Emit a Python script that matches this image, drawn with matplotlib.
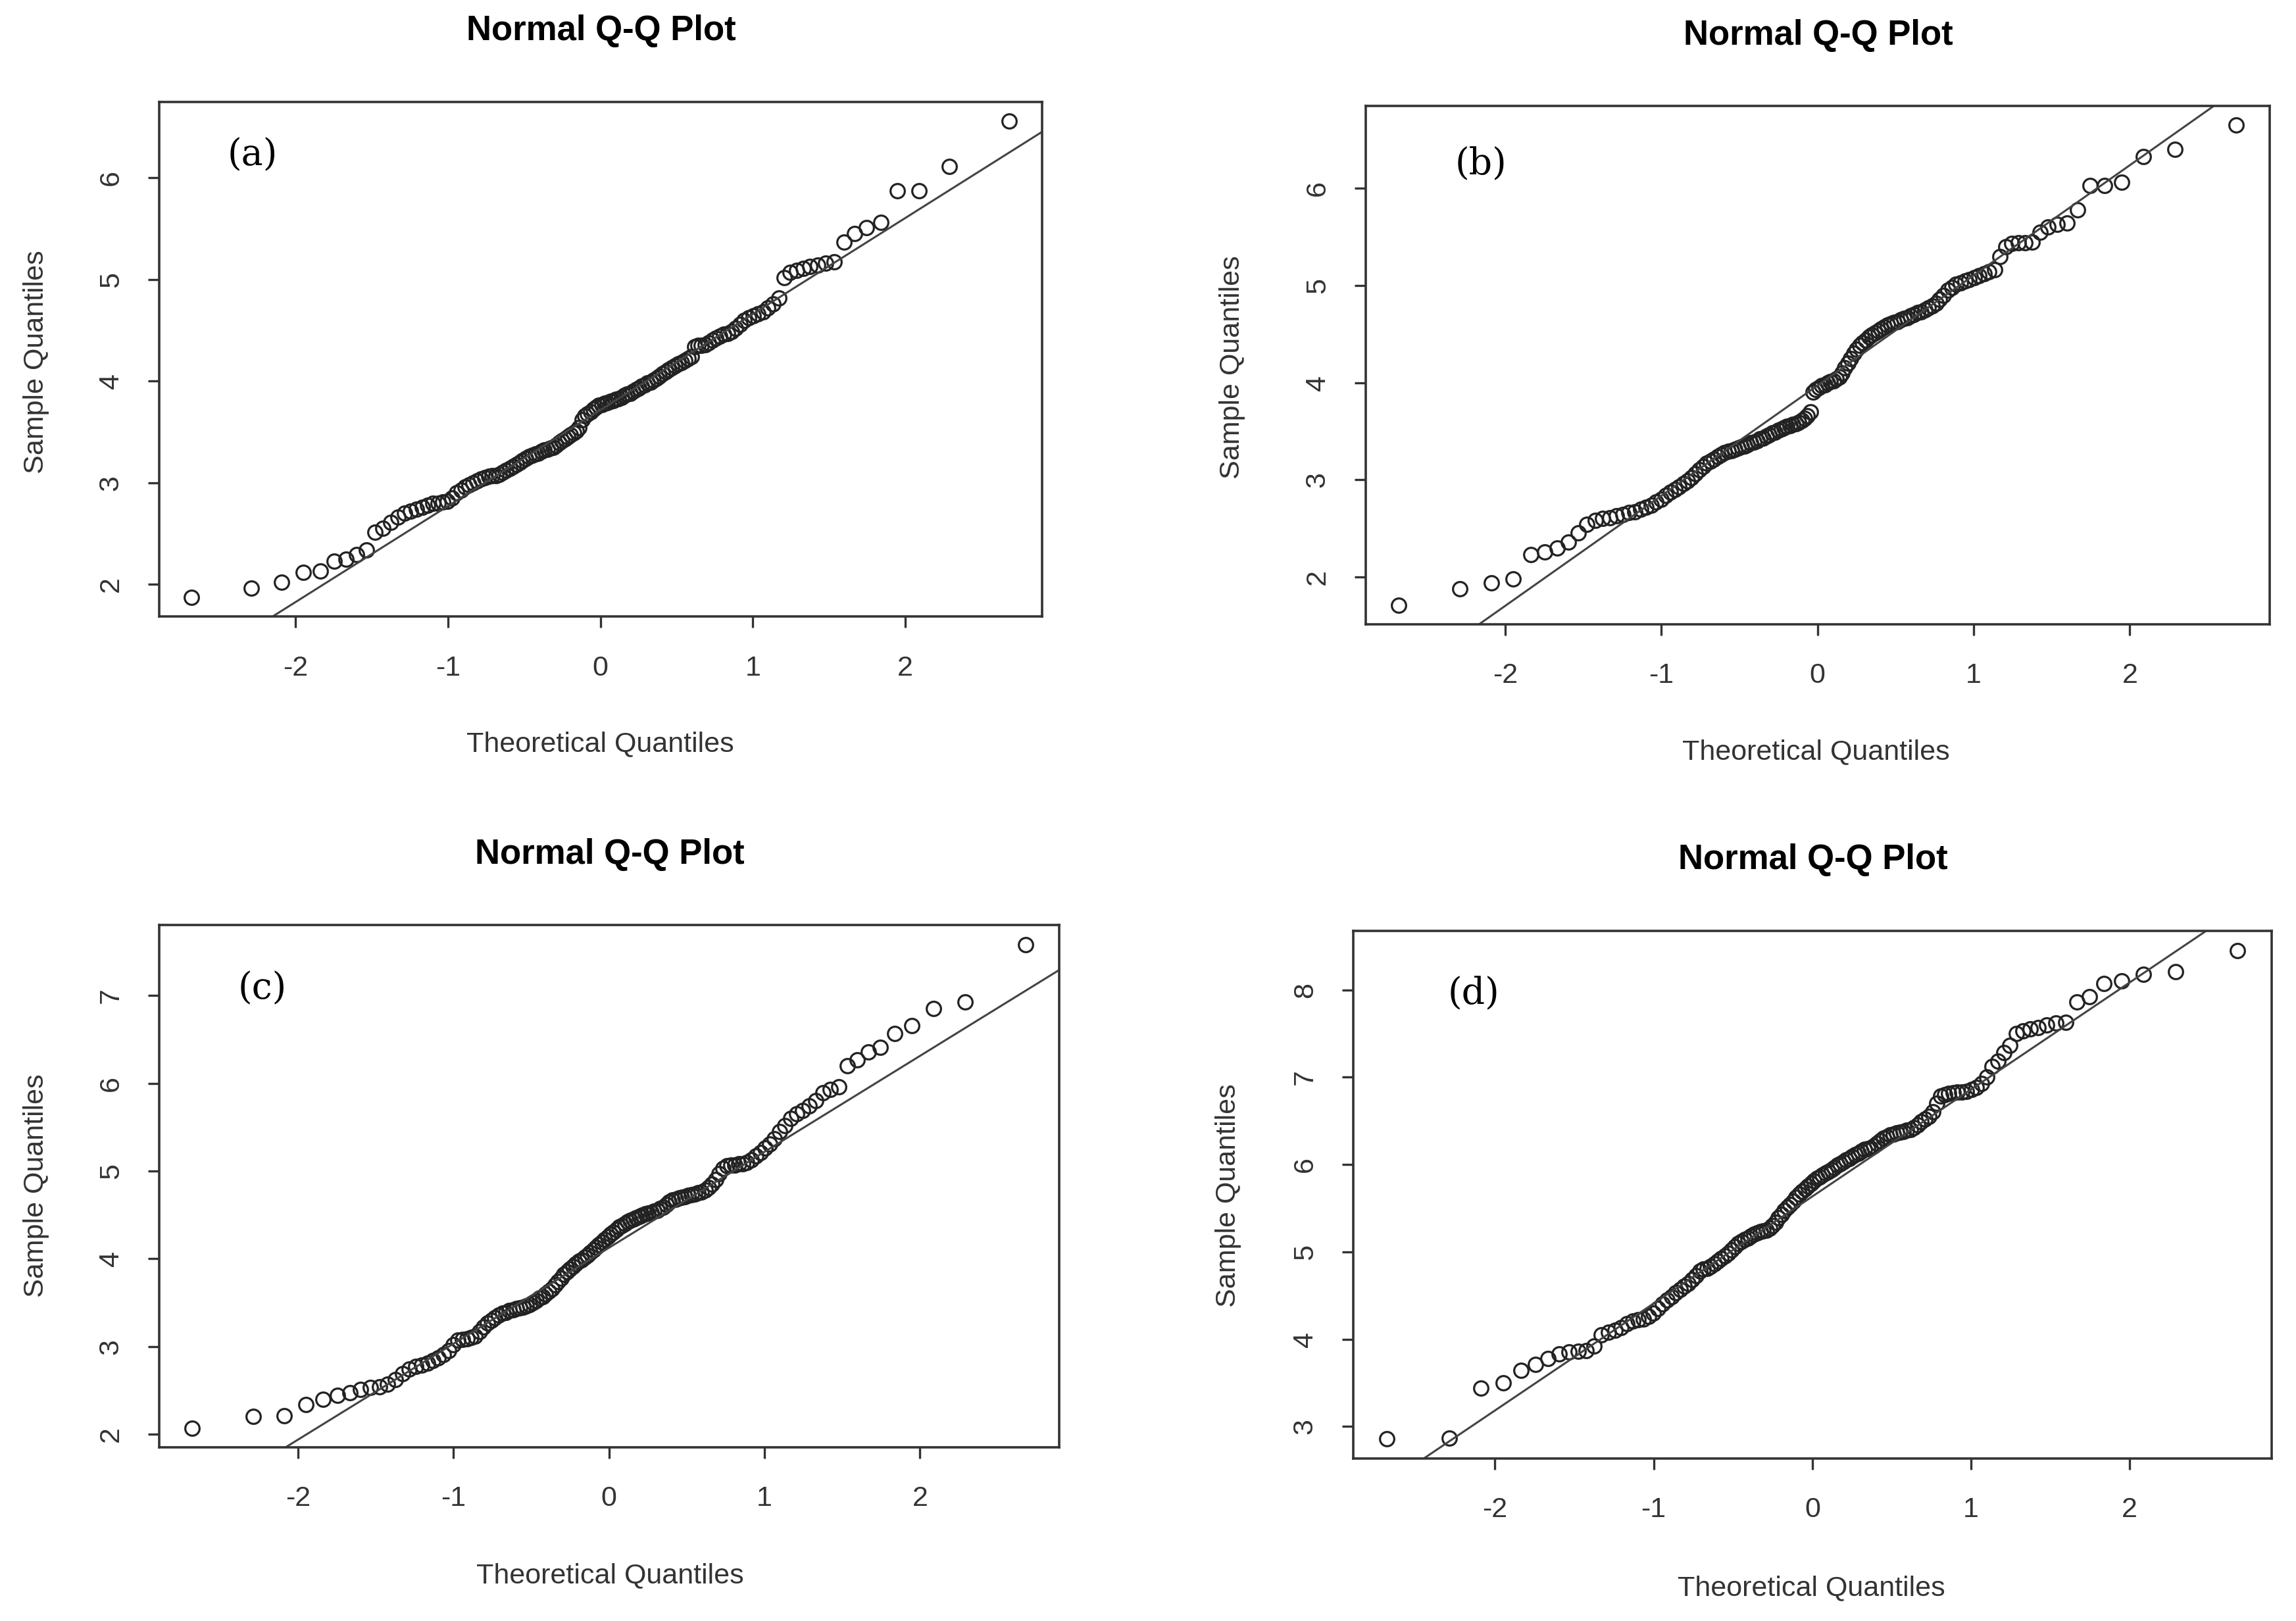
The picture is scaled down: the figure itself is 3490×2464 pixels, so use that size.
import matplotlib
matplotlib.use("Agg")
import matplotlib.pyplot as plt
from matplotlib.ticker import MultipleLocator
from statistics import NormalDist
import numpy as np

plt.rcParams['font.family'] = ['Liberation Sans', 'DejaVu Sans']
plt.rcParams['axes.unicode_minus'] = False

# sorted sample values
sample_a = [1.87, 1.96, 2.02, 2.12, 2.13, 2.23, 2.25, 2.29, 2.34, 2.51, 2.55, 2.61,
            2.66, 2.70, 2.72, 2.74, 2.76, 2.78, 2.80, 2.80, 2.81,
            2.82, 2.85, 2.90, 2.93, 2.96, 2.98, 3.00, 3.02, 3.04,
            3.05, 3.06, 3.07, 3.07, 3.08, 3.10, 3.12, 3.14, 3.16, 3.18,
            3.20, 3.22, 3.24, 3.26, 3.27, 3.28, 3.29, 3.31, 3.32, 3.33,
            3.34, 3.35, 3.37, 3.39, 3.41, 3.43, 3.45, 3.47, 3.49, 3.51,
            3.54, 3.62, 3.66, 3.68, 3.70, 3.72, 3.74, 3.76,
            3.77, 3.78, 3.79, 3.80, 3.81, 3.82, 3.83, 3.84,
            3.86, 3.87, 3.88, 3.90, 3.92, 3.93, 3.95, 3.96, 3.98, 3.99,
            4.01, 4.03, 4.05, 4.07, 4.09, 4.11, 4.13, 4.15, 4.17, 4.18,
            4.20, 4.22, 4.24, 4.34, 4.35, 4.35, 4.36, 4.38, 4.40, 4.42,
            4.44, 4.46, 4.47, 4.49, 4.52, 4.56, 4.60, 4.62, 4.64, 4.66, 4.68, 4.72, 4.76, 4.82,
            5.02, 5.07, 5.09, 5.11, 5.13, 5.14, 5.16, 5.17, 5.37, 5.45, 5.51, 5.56, 5.87, 5.87, 6.11, 6.56]

sample_b = [1.71, 1.88, 1.94, 1.98, 2.23, 2.26, 2.30, 2.36, 2.45, 2.54, 2.58, 2.60,
            2.61, 2.63, 2.64, 2.66, 2.67, 2.70, 2.72, 2.74, 2.77,
            2.80, 2.84, 2.87, 2.90, 2.93, 2.96, 2.99, 3.02, 3.06,
            3.10, 3.14, 3.17, 3.19, 3.21, 3.24, 3.26, 3.28, 3.29, 3.30,
            3.31, 3.33, 3.34, 3.35, 3.36, 3.38, 3.39, 3.40, 3.42, 3.43,
            3.45, 3.46, 3.48, 3.49, 3.51, 3.52, 3.54, 3.55, 3.56, 3.57,
            3.58, 3.59, 3.61, 3.63, 3.66, 3.70, 3.90, 3.93,
            3.95, 3.97, 3.98, 4.00, 4.01, 4.02, 4.04, 4.06,
            4.10, 4.15, 4.20, 4.25, 4.30, 4.34, 4.38, 4.41, 4.44, 4.47,
            4.49, 4.51, 4.53, 4.55, 4.57, 4.59, 4.61, 4.62, 4.63, 4.65,
            4.66, 4.67, 4.69, 4.70, 4.72, 4.73, 4.75, 4.77, 4.79, 4.82,
            4.86, 4.90, 4.95, 4.98, 5.01, 5.03, 5.05, 5.06, 5.08, 5.10, 5.12, 5.14, 5.16, 5.30,
            5.40, 5.43, 5.44, 5.44, 5.45, 5.55, 5.60, 5.63, 5.64, 5.78, 6.03, 6.03, 6.06, 6.33, 6.40, 6.65]

sample_c = [2.07, 2.20, 2.21, 2.34, 2.40, 2.44, 2.47, 2.51, 2.53, 2.54, 2.57, 2.62,
            2.69, 2.74, 2.77, 2.79, 2.81, 2.84, 2.87, 2.91, 2.95,
            3.02, 3.07, 3.08, 3.09, 3.10, 3.12, 3.17, 3.22, 3.27,
            3.30, 3.33, 3.36, 3.38, 3.39, 3.41, 3.42, 3.43, 3.44, 3.45,
            3.46, 3.48, 3.50, 3.52, 3.55, 3.57, 3.60, 3.63, 3.66, 3.70,
            3.74, 3.78, 3.82, 3.85, 3.88, 3.91, 3.94, 3.97, 3.99, 4.02,
            4.04, 4.07, 4.10, 4.13, 4.16, 4.19, 4.22, 4.25,
            4.28, 4.30, 4.33, 4.36, 4.38, 4.40, 4.42, 4.44,
            4.45, 4.47, 4.48, 4.50, 4.51, 4.52, 4.53, 4.54, 4.55, 4.57,
            4.59, 4.62, 4.65, 4.67, 4.68, 4.69, 4.70, 4.71, 4.72, 4.73,
            4.74, 4.75, 4.76, 4.78, 4.81, 4.85, 4.90, 4.97, 5.03, 5.06,
            5.07, 5.07, 5.08, 5.08, 5.10, 5.13, 5.17, 5.21, 5.26, 5.31, 5.37, 5.45, 5.52, 5.60,
            5.65, 5.69, 5.74, 5.80, 5.89, 5.93, 5.96, 6.20, 6.27, 6.36, 6.41, 6.57, 6.66, 6.85, 6.93, 7.58]

sample_d = [2.86, 2.87, 3.44, 3.50, 3.64, 3.71, 3.78, 3.83, 3.85, 3.86, 3.87, 3.92,
            4.05, 4.08, 4.10, 4.13, 4.18, 4.21, 4.22, 4.23, 4.26,
            4.30, 4.35, 4.40, 4.45, 4.49, 4.53, 4.57, 4.61, 4.64,
            4.68, 4.73, 4.78, 4.80, 4.81, 4.83, 4.86, 4.89, 4.92, 4.95,
            4.98, 5.02, 5.06, 5.10, 5.12, 5.14, 5.16, 5.18, 5.20, 5.22,
            5.23, 5.24, 5.25, 5.27, 5.30, 5.34, 5.39, 5.43, 5.47, 5.51,
            5.54, 5.58, 5.62, 5.66, 5.69, 5.72, 5.75, 5.78,
            5.81, 5.84, 5.86, 5.88, 5.90, 5.92, 5.94, 5.96,
            5.99, 6.01, 6.03, 6.05, 6.07, 6.09, 6.11, 6.13, 6.15, 6.17,
            6.18, 6.19, 6.21, 6.24, 6.27, 6.30, 6.32, 6.34, 6.35, 6.36,
            6.37, 6.38, 6.39, 6.40, 6.42, 6.45, 6.49, 6.52, 6.55, 6.60,
            6.70, 6.78, 6.80, 6.81, 6.82, 6.83, 6.83, 6.84, 6.86, 6.88, 6.93, 7.00, 7.12, 7.18,
            7.28, 7.36, 7.50, 7.53, 7.55, 7.57, 7.60, 7.62, 7.63, 7.86, 7.92, 8.07, 8.10, 8.18, 8.21, 8.45]

samples = [sample_a, sample_b, sample_c, sample_d]
panel_labels = ['(a)', '(b)', '(c)', '(d)']
title_text = 'Normal Q-Q Plot'
xlabel_text = 'Theoretical Quantiles'
ylabel_text = 'Sample Quantiles'

# layout (figure fractions)
axes_rects = [[0.0692, 0.6196, 0.3846, 0.3176],
              [0.5947, 0.6149, 0.3938, 0.3197],
              [0.0692, 0.1071, 0.3921, 0.3221],
              [0.5893, 0.1004, 0.4001, 0.3253]]
title_pos = [(0.2618, 0.981), (0.792, 0.978), (0.2656, 0.4729), (0.7895, 0.4697)]
xlab_pos = [(0.2615, 0.5408), (0.791, 0.536), (0.2656, 0.028), (0.789, 0.0201)]
ylab_pos = [(0.0159, 0.7768), (0.5367, 0.7735), (0.0159, 0.2687), (0.5351, 0.2626)]
letter_pos = [(0.106, 0.896), (0.128, 0.887), (0.1147, 0.878), (0.131, 0.880)]

nd = NormalDist()


def theo_quantiles(n):
    # same plotting positions as R's ppoints for n > 10
    return np.array([nd.inv_cdf((i - 0.5) / n) for i in range(1, n + 1)])


fig = plt.figure(figsize=(17.45, 12.32), dpi=200)

for k in range(4):
    y = np.array(samples[k])
    x = theo_quantiles(len(y))
    ax = fig.add_axes(axes_rects[k])
    ax.plot(x, y, 'o', mfc='none', mec='#222222', ms=7.8, mew=1.15)

    # qqline through the quartiles
    q1, q3 = np.quantile(y, [0.25, 0.75])
    z1, z3 = nd.inv_cdf(0.25), nd.inv_cdf(0.75)
    ax.axline((z1, q1), slope=(q3 - q1) / (z3 - z1), color='#444444', lw=1.1)

    ax.margins(0.04)
    ax.xaxis.set_major_locator(MultipleLocator(1))
    ax.yaxis.set_major_locator(MultipleLocator(1))
    for s in ax.spines.values():
        s.set_color('#333333')
        s.set_linewidth(1.3)
    ax.tick_params(direction='out', length=6, width=1.2, color='#333333',
                   labelsize=15.5, labelcolor='#333333')
    ax.tick_params(axis='x', pad=15)
    ax.tick_params(axis='y', pad=13, labelrotation=90)
    plt.setp(ax.get_yticklabels(), va='center')

    ax.text(letter_pos[k][0], letter_pos[k][1], panel_labels[k], transform=ax.transAxes,
            ha='center', va='center', fontsize=20, family='DejaVu Serif')

    fig.text(title_pos[k][0], title_pos[k][1], title_text, ha='center', va='center',
             fontsize=19, fontweight='bold')
    fig.text(xlab_pos[k][0], xlab_pos[k][1], xlabel_text, ha='center', va='center',
             fontsize=15.5, color='#333333')
    fig.text(ylab_pos[k][0], ylab_pos[k][1], ylabel_text, ha='center', va='center',
             fontsize=15.5, color='#333333', rotation=90)

fig.savefig('out.png', dpi=200, facecolor='white')
